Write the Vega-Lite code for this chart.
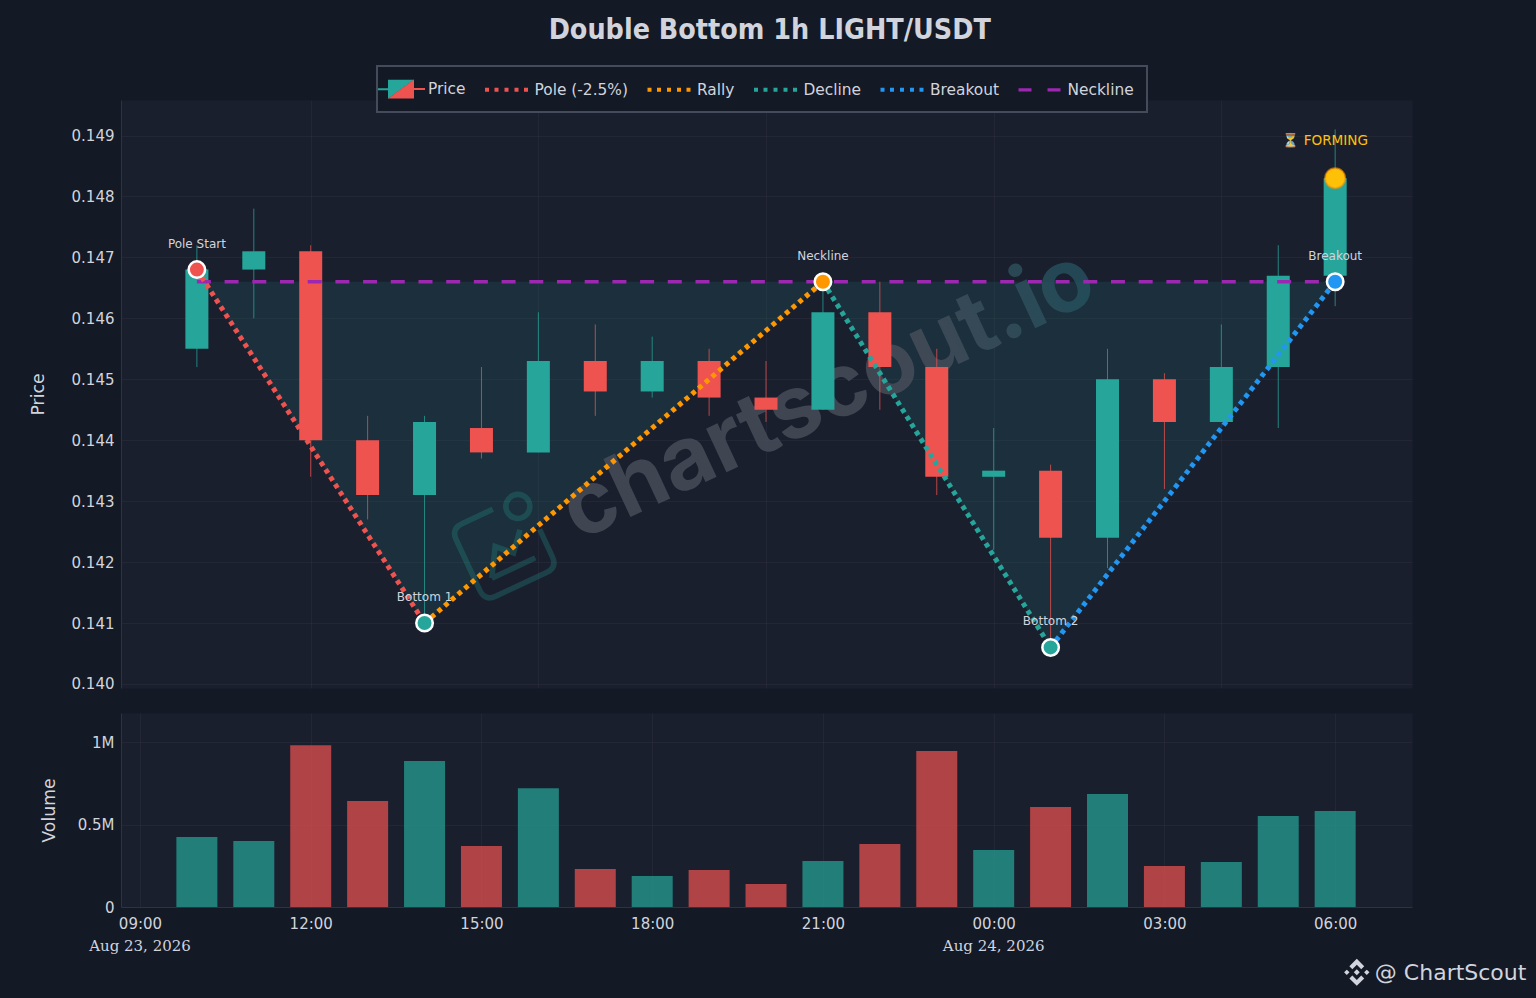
{
  "$schema": "https://vega.github.io/schema/vega-lite/v6.json",
  "background": "#141926",
  "padding": {"left": 28, "top": 15, "right": 9, "bottom": 16},
  "title": {"text": "Double Bottom 1h LIGHT/USDT", "anchor": "middle", "font": "DejaVu Sans Condensed", "fontSize": 28.4, "fontWeight": "bold", "color": "#d1d4dc", "offset": 20, "dx": -8},
  "datasets": {
    "candles": [
      {"time": "2026-08-23T10:00:00Z", "open": 0.1455, "close": 0.1468, "high": 0.1472, "low": 0.1452, "volume": 424000},
      {"time": "2026-08-23T11:00:00Z", "open": 0.1468, "close": 0.1471, "high": 0.1478, "low": 0.146, "volume": 400000},
      {"time": "2026-08-23T12:00:00Z", "open": 0.1471, "close": 0.144, "high": 0.1472, "low": 0.1434, "volume": 980000},
      {"time": "2026-08-23T13:00:00Z", "open": 0.144, "close": 0.1431, "high": 0.1444, "low": 0.1427, "volume": 642000},
      {"time": "2026-08-23T14:00:00Z", "open": 0.1431, "close": 0.1443, "high": 0.1444, "low": 0.141, "volume": 885000},
      {"time": "2026-08-23T15:00:00Z", "open": 0.1442, "close": 0.1438, "high": 0.1452, "low": 0.1437, "volume": 370000},
      {"time": "2026-08-23T16:00:00Z", "open": 0.1438, "close": 0.1453, "high": 0.1461, "low": 0.1438, "volume": 720000},
      {"time": "2026-08-23T17:00:00Z", "open": 0.1453, "close": 0.1448, "high": 0.1459, "low": 0.1444, "volume": 230000},
      {"time": "2026-08-23T18:00:00Z", "open": 0.1448, "close": 0.1453, "high": 0.1457, "low": 0.1447, "volume": 188000},
      {"time": "2026-08-23T19:00:00Z", "open": 0.1453, "close": 0.1447, "high": 0.1455, "low": 0.1444, "volume": 224000},
      {"time": "2026-08-23T20:00:00Z", "open": 0.1447, "close": 0.1445, "high": 0.1453, "low": 0.1443, "volume": 139000},
      {"time": "2026-08-23T21:00:00Z", "open": 0.1445, "close": 0.1461, "high": 0.1466, "low": 0.1445, "volume": 279000},
      {"time": "2026-08-23T22:00:00Z", "open": 0.1461, "close": 0.1452, "high": 0.1466, "low": 0.1445, "volume": 382000},
      {"time": "2026-08-23T23:00:00Z", "open": 0.1452, "close": 0.1434, "high": 0.1455, "low": 0.1431, "volume": 945000},
      {"time": "2026-08-24T00:00:00Z", "open": 0.1434, "close": 0.1435, "high": 0.1442, "low": 0.1422, "volume": 345000},
      {"time": "2026-08-24T01:00:00Z", "open": 0.1435, "close": 0.1424, "high": 0.1436, "low": 0.1406, "volume": 606000},
      {"time": "2026-08-24T02:00:00Z", "open": 0.1424, "close": 0.145, "high": 0.1455, "low": 0.1419, "volume": 685000},
      {"time": "2026-08-24T03:00:00Z", "open": 0.145, "close": 0.1443, "high": 0.1451, "low": 0.1432, "volume": 248000},
      {"time": "2026-08-24T04:00:00Z", "open": 0.1443, "close": 0.1452, "high": 0.1459, "low": 0.1443, "volume": 273000},
      {"time": "2026-08-24T05:00:00Z", "open": 0.1452, "close": 0.1467, "high": 0.1472, "low": 0.1442, "volume": 552000},
      {"time": "2026-08-24T06:00:00Z", "open": 0.1467, "close": 0.1483, "high": 0.1491, "low": 0.1462, "volume": 582000}
    ],
    "legs": [
      {"series": "Neckline", "time": "2026-08-23T10:00:00Z", "price": 0.1466},
      {"series": "Neckline", "time": "2026-08-24T06:00:00Z", "price": 0.1466},
      {"series": "Pole (-2.5%)", "time": "2026-08-23T10:00:00Z", "price": 0.1468},
      {"series": "Pole (-2.5%)", "time": "2026-08-23T14:00:00Z", "price": 0.141},
      {"series": "Rally", "time": "2026-08-23T14:00:00Z", "price": 0.141},
      {"series": "Rally", "time": "2026-08-23T21:00:00Z", "price": 0.1466},
      {"series": "Decline", "time": "2026-08-23T21:00:00Z", "price": 0.1466},
      {"series": "Decline", "time": "2026-08-24T01:00:00Z", "price": 0.1406},
      {"series": "Breakout", "time": "2026-08-24T01:00:00Z", "price": 0.1406},
      {"series": "Breakout", "time": "2026-08-24T06:00:00Z", "price": 0.1466}
    ],
    "pivots": [
      {"label": "Pole Start", "series": "Pole (-2.5%)", "time": "2026-08-23T10:00:00Z", "price": 0.1468},
      {"label": "Bottom 1", "series": "Decline", "time": "2026-08-23T14:00:00Z", "price": 0.141},
      {"label": "Neckline", "series": "Rally", "time": "2026-08-23T21:00:00Z", "price": 0.1466},
      {"label": "Bottom 2", "series": "Decline", "time": "2026-08-24T01:00:00Z", "price": 0.1406},
      {"label": "Breakout", "series": "Breakout", "time": "2026-08-24T06:00:00Z", "price": 0.1466}
    ]
  },
  "config": {
    "font": "DejaVu Sans",
    "view": {"fill": "#1a1f2e", "stroke": "#20263400"},
    "legend": {"strokeWidth": 2},
    "axis": {
      "labelColor": "#d1d4dc", "labelFont": "DejaVu Sans", "labelFontSize": 15, "labelPadding": 7,
      "titleColor": "#d1d4dc", "titleFont": "DejaVu Sans", "titleFontSize": 17.3, "titleFontWeight": "normal",
      "tickSize": 0, "domainColor": "#2c3342", "gridColor": "#ffffff", "gridOpacity": 0.035
    }
  },
  "spacing": 19,
  "vconcat": [
    {
      "width": 1291,
      "height": 588,
      "encoding": {
        "x": {
          "field": "time", "type": "temporal", "title": null,
          "scale": {"type": "utc", "domain": [1787474400000, 1787556060000], "nice": false, "padding": 0},
          "axis": {"labels": false, "values": [1787486400000, 1787500800000, 1787515200000, 1787529600000, 1787544000000], "domain": false}
        },
        "y": {
          "type": "quantitative", "title": "Price",
          "scale": {"domain": [0.139934, 0.149583], "zero": false, "nice": false},
          "axis": {"values": [0.14, 0.141, 0.142, 0.143, 0.144, 0.145, 0.146, 0.147, 0.148, 0.149], "format": ".3f", "titlePadding": 24}
        }
      },
      "layer": [
        {
          "data": {"values": [
            {"time": "2026-08-23T10:08:00Z", "price": 0.1466, "neck": 0.1466},
            {"time": "2026-08-23T14:00:00Z", "price": 0.141, "neck": 0.1466},
            {"time": "2026-08-23T21:00:00Z", "price": 0.1466, "neck": 0.1466},
            {"time": "2026-08-24T01:00:00Z", "price": 0.1406, "neck": 0.1466},
            {"time": "2026-08-24T06:00:00Z", "price": 0.1466, "neck": 0.1466}
          ]},
          "mark": {"type": "area", "color": "#26a69a", "opacity": 0.13},
          "encoding": {"y": {"field": "price"}, "y2": {"field": "neck"}}
        },
        {
          "data": {"values": [{"time": "2026-08-23T15:24:00Z", "price": 0.14223}]},
          "mark": {
            "type": "point", "filled": false, "stroke": "#26a69a", "strokeWidth": 5.5, "opacity": 0.25, "size": 6400, "angle": -25,
            "shape": "M.15 -1H-.7Q-1 -1 -1 -.7V.7Q-1 1 -.7 1H.7Q1 1 1 .7V-.05M-.6 .55L-.19 -.13L.16 .21L.55 -.25M-.6 .55H.6M1.05 -.8A.3 .3 0 1 1 .45 -.8A.3 .3 0 1 1 1.05 -.8Z"
          },
          "encoding": {"y": {"field": "price"}}
        },
        {
          "data": {"values": [{"time": "2026-08-23T21:06:00Z", "price": 0.14473, "label": "chartscout.io"}]},
          "mark": {
            "type": "text", "font": "Inter", "fontWeight": "bold", "fontSize": 88, "angle": -25, "align": "center", "baseline": "middle",
            "color": {"gradient": "linear", "x1": 0, "y1": 0, "x2": 1, "y2": 0, "stops": [{"offset": 0, "color": "#4a4f5c"}, {"offset": 0.68, "color": "#4a4f5c"}, {"offset": 0.95, "color": "#27525f"}]},
            "opacity": 0.8
          },
          "encoding": {"y": {"field": "price"}, "text": {"field": "label"}}
        },
        {
          "data": {"name": "candles"},
          "mark": {"type": "rule", "strokeWidth": 1, "opacity": 0.75},
          "encoding": {
            "y": {"field": "low"}, "y2": {"field": "high"},
            "color": {"condition": {"test": "datum.close >= datum.open", "value": "#26a69a"}, "value": "#ef5350"}
          }
        },
        {
          "data": {"name": "candles"},
          "mark": {"type": "bar", "width": 23},
          "encoding": {
            "y": {"field": "open"}, "y2": {"field": "close"},
            "color": {"condition": {"test": "datum.close >= datum.open", "value": "#26a69a"}, "value": "#ef5350"}
          }
        },
        {
          "data": {"name": "legs"},
          "transform": [{"filter": "datum.series == 'Neckline'"}],
          "mark": {"type": "line", "strokeWidth": 3.4, "strokeDash": [14, 13.7]},
          "encoding": {
            "y": {"field": "price"},
            "color": {"field": "series", "type": "nominal", "legend": null, "scale": {"domain": ["Pole (-2.5%)", "Rally", "Decline", "Breakout", "Neckline"], "range": ["#ef5350", "#ff9800", "#26a69a", "#2196f3", "#9c27b0"]}}
          }
        },
        {
          "data": {"name": "legs"},
          "transform": [{"filter": "datum.series != 'Neckline'"}],
          "mark": {"type": "line", "strokeWidth": 5, "strokeDash": [4.6, 4.2]},
          "encoding": {
            "y": {"field": "price"},
            "color": {"field": "series", "type": "nominal", "legend": null}
          }
        },
        {
          "data": {"name": "legs"},
          "mark": {"type": "point", "filled": true, "size": 0, "opacity": 1},
          "encoding": {
            "y": {"field": "price"},
            "fill": {
              "field": "series", "type": "nominal",
              "scale": {
                "domain": ["\u2002\u2009Price", "Pole (-2.5%)", "Rally", "Decline", "Breakout", "Neckline"],
                "range": ["#26a69a", "#ef5350", "#ff9800", "#26a69a", "#2196f3", "#9c27b0"]
              },
              "legend": {
                "title": null, "orient": "none", "legendX": 256, "legendY": -34, "direction": "horizontal", "columns": 6,
                "fillColor": "#141926", "strokeColor": "#454b5b", "padding": 13,
                "symbolSize": 400, "symbolStrokeWidth": 0, "symbolOpacity": 1,
                "labelFont": "DejaVu Sans", "labelFontSize": 15.4, "labelColor": "#d1d4dc", "labelOffset": 18, "columnPadding": 18.5
              }
            },
            "shape": {
              "field": "series", "type": "nominal",
              "scale": {
                "domain": ["\u2002\u2009Price", "Pole (-2.5%)", "Rally", "Decline", "Breakout", "Neckline"],
                "range": [
                  "M-2.2 -.1H-1.2V-.95H1.4L-1.2 .95V.1H-2.2Z",
                  "M-2.15 -.2h.4v.4h-.4zM-1.2 -.2h.4v.4h-.4zM-.2 -.2h.4v.4h-.4zM.8 -.2h.4v.4h-.4zM1.75 -.2h.4v.4h-.4z",
                  "M-2.15 -.2h.4v.4h-.4zM-1.2 -.2h.4v.4h-.4zM-.2 -.2h.4v.4h-.4zM.8 -.2h.4v.4h-.4zM1.75 -.2h.4v.4h-.4z",
                  "M-2.15 -.2h.4v.4h-.4zM-1.2 -.2h.4v.4h-.4zM-.2 -.2h.4v.4h-.4zM.8 -.2h.4v.4h-.4zM1.75 -.2h.4v.4h-.4z",
                  "M-2.15 -.2h.4v.4h-.4zM-1.2 -.2h.4v.4h-.4zM-.2 -.2h.4v.4h-.4zM.8 -.2h.4v.4h-.4zM1.75 -.2h.4v.4h-.4z",
                  "M-2.1 -.16h1.3v.32h-1.3zM.8 -.16h1.3v.32h-1.3z"
                ]
              }
            }
          }
        },
        {
          "data": {"values": [{"time": "2026-08-23T14:00:00Z", "price": 0.1445, "icon": "Price"}]},
          "mark": {"type": "point", "filled": true, "size": 0, "fill": "#ef5350"},
          "encoding": {
            "y": {"field": "price"},
            "opacity": {
              "field": "icon", "type": "nominal",
              "scale": {"domain": ["Price"], "range": [1]},
              "legend": {
                "title": null, "orient": "none", "legendX": 269, "legendY": -21, "padding": 0,
                "symbolType": "M1.4 -.95V-.1H2.5V.1H1.4V.95H-1.2Z", "symbolSize": 400, "symbolFillColor": "#ef5350", "symbolStrokeWidth": 0,
                "labelExpr": "''", "labelOffset": 0
              }
            }
          }
        },
        {
          "data": {"name": "pivots"},
          "mark": {"type": "text", "fontSize": 12, "color": "#d1d4dc", "dy": -26, "baseline": "middle"},
          "encoding": {"y": {"field": "price"}, "text": {"field": "label"}}
        },
        {
          "data": {"name": "pivots"},
          "mark": {"type": "point", "filled": true, "size": 272, "stroke": "#ffffff", "strokeWidth": 2.5, "opacity": 1},
          "encoding": {
            "y": {"field": "price"},
            "color": {"field": "series", "type": "nominal", "legend": null}
          }
        },
        {
          "data": {"values": [{"time": "2026-08-24T06:00:00Z", "price": 0.1483}]},
          "mark": {"type": "point", "filled": true, "size": 400, "fill": "#ffc107", "stroke": "#ff9800", "strokeWidth": 2, "strokeOpacity": 0.6, "opacity": 1},
          "encoding": {"y": {"field": "price"}}
        },
        {
          "data": {"values": [{"time": "2026-08-24T06:00:00Z", "price": 0.1483, "label": "⏳ FORMING"}]},
          "mark": {"type": "text", "fontSize": 13.6, "color": "#ffc107", "dy": -37, "dx": -10, "baseline": "middle"},
          "encoding": {"y": {"field": "price"}, "text": {"field": "label"}}
        }
      ]
    },
    {
      "width": 1291,
      "height": 194,
      "encoding": {
        "x": {
          "field": "time", "type": "temporal", "title": null,
          "scale": {"type": "utc", "domain": [1787474400000, 1787556060000], "nice": false, "padding": 0},
          "axis": {"format": "%H:%M", "values": [1787475600000, 1787486400000, 1787497200000, 1787508000000, 1787518800000, 1787529600000, 1787540400000, 1787551200000], "labelPadding": 9}
        },
        "y": {
          "type": "quantitative", "title": "Volume",
          "scale": {"domain": [0, 1176000], "nice": false},
          "axis": {"values": [0, 500000, 1000000], "labelExpr": "datum.value == 0 ? '0' : format(datum.value / 1000000, '.1~f') + 'M'", "titlePadding": 19}
        }
      },
      "layer": [
        {
          "data": {"name": "candles"},
          "mark": {"type": "bar", "width": 41, "opacity": 0.7},
          "encoding": {
            "y": {"field": "volume"},
            "color": {"condition": {"test": "datum.close >= datum.open", "value": "#26a69a"}, "value": "#ef5350"}
          }
        },
        {
          "data": {"values": [
            {"time": "2026-08-23T09:00:00Z", "volume": 0, "label": "Aug 23, 2026"},
            {"time": "2026-08-24T00:00:00Z", "volume": 0, "label": "Aug 24, 2026"}
          ]},
          "mark": {"type": "text", "font": "DejaVu Serif", "fontSize": 15, "color": "#d1d4dc", "dy": 39, "baseline": "middle"},
          "encoding": {"y": {"field": "volume"}, "text": {"field": "label"}}
        },
        {
          "data": {"values": [{"time": "2026-08-24T09:21:36Z", "volume": 0, "label": "@ ChartScout"}]},
          "mark": {"type": "text", "fontSize": 22, "color": "#d1d4dc", "dy": 66, "align": "right", "baseline": "middle"},
          "encoding": {"y": {"field": "volume"}, "text": {"field": "label"}}
        },
        {
          "data": {"values": [{"time": "2026-08-24T06:22:48Z", "volume": -396000}]},
          "mark": {
            "type": "point", "filled": true, "fill": "#d1d4dc", "size": 729, "opacity": 1,
            "shape": "M0 -1L.55 -.45L.33 -.23L0 -.56L-.33 -.23L-.55 -.45ZM0 1L.55 .45L.33 .23L0 .56L-.33 .23L-.55 .45ZM0 -.22L.22 0L0 .22L-.22 0ZM-.74 -.2L-.54 0L-.74 .2L-.94 0ZM.74 -.2L.94 0L.74 .2L.54 0Z"
          },
          "encoding": {"y": {"field": "volume"}}
        }
      ]
    }
  ]
}
